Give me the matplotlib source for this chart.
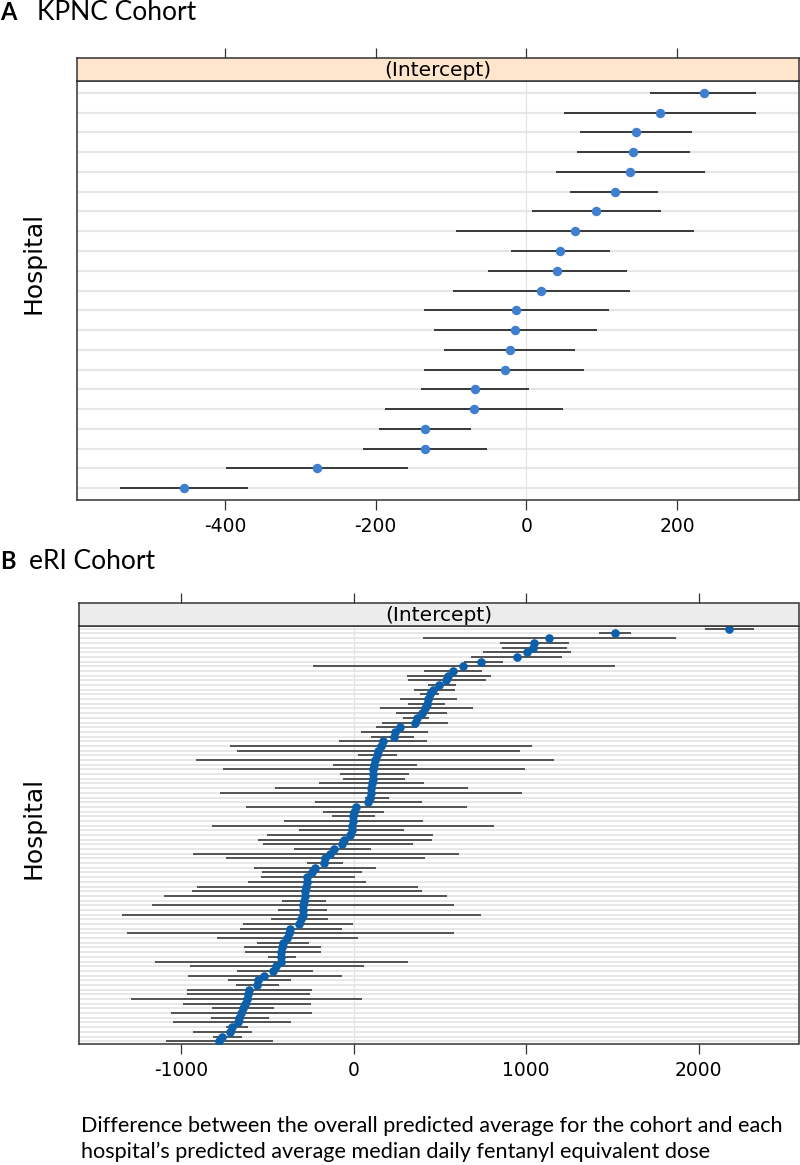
import matplotlib
matplotlib.use("Agg")
import matplotlib.pyplot as plt
import numpy as np

# KPNC cohort, hospitals ordered from the top row down
kpnc_est = [235, 177, 145, 142, 138, 117, 92, 65, 45, 41, 19,
            -14, -15, -22, -29, -68, -69, -134, -134, -278, -454]
kpnc_lo = [164, 50, 71, 67, 39, 58, 8, -94, -20, -51, -98,
           -136, -123, -109, -136, -140, -187, -195, -217, -399, -539]
kpnc_hi = [304, 304, 220, 217, 237, 175, 178, 223, 111, 134, 138,
           109, 94, 65, 77, 4, 49, -73, -52, -157, -369]
kpnc_ticks = [-400, -200, 0, 200]

# eRI cohort, hospitals ordered from the top row down
eri_est = [2178, 1513, 1135, 1046, 1042, 1003, 945, 736, 636, 578,
           549, 536, 497, 462, 444, 433, 423, 414, 394, 369,
           356, 269, 240, 234, 172, 157, 143, 134, 124, 118,
           114, 110, 110, 106, 104, 101, 95, 85, 14, 2,
           -2, -5, -7, -9, -21, -56, -69, -114, -137, -166,
           -172, -223, -243, -268, -272, -276, -280, -282, -286, -290,
           -291, -295, -307, -314, -368, -372, -388, -411, -417, -421,
           -421, -423, -450, -465, -519, -552, -561, -604, -614, -620,
           -629, -643, -654, -662, -668, -706, -716, -764, -778]
eri_lo = [2036, 1424, 404, 848, 858, 748, 682, 640, -237, 408,
          308, 315, 430, 350, 385, 270, 317, 152, 247, 285,
          165, 130, 42, 100, -83, -715, -673, 26, -913, -121,
          -755, -76, -61, -200, -457, -771, 66, -226, -622, -179,
          -127, -403, -822, -314, -503, -556, -527, -343, -932, -741,
          -272, -575, -528, -538, -610, -909, -938, -1096, -413, -1166,
          -437, -1339, -478, -639, -658, -1311, -789, -558, -633, -629,
          -494, -1150, -948, -674, -961, -730, -681, -967, -967, -1289,
          -990, -819, -1058, -826, -1044, -741, -932, -813, -1089]
eri_hi = [2320, 1608, 1868, 1247, 1238, 1262, 1208, 864, 1513, 747,
          795, 768, 592, 585, 495, 600, 527, 690, 544, 440,
          550, 370, 430, 348, 427, 1036, 962, 252, 1160, 365,
          995, 320, 300, 408, 663, 978, 205, 398, 659, 176,
          126, 400, 816, 294, 459, 453, 346, 104, 611, 414,
          -63, 130, 50, 8, 72, 372, 395, 539, -162, 581,
          -152, 737, -150, -1, -69, 582, 27, -256, -189, -189,
          -333, 313, 62, -237, -69, -364, -430, -239, -253, 47,
          -249, -461, -239, -488, -362, -610, -590, -648, -465]
eri_ticks = [-1000, 0, 1000, 2000]

caption = ("Difference between the overall predicted average for the cohort and each\n"
           "hospital\u2019s predicted average median daily fentanyl equivalent dose")

narrow = ["Liberation Sans Narrow", "DejaVu Sans"]
W, H = 800, 1165


def fbox(x0, y0, x1, y1):
    # pixel box (top-left origin) -> figure fraction rect
    return [x0 / W, 1 - y1 / H, (x1 - x0) / W, (y1 - y0) / H]


def panel(fig, box, strip_box, est, lo, hi, ticks, xlim, dot_color, strip_color,
          grid_lw, bar_lw, msize):
    n = len(est)
    y = np.arange(n)[::-1]

    ax = fig.add_axes(fbox(*box))
    ax.set_xlim(*xlim)
    ax.set_ylim(-0.6, n - 0.4)

    # horizontal reference line per hospital + zero line
    for yy in y:
        ax.axhline(yy, color="#e6e6e6", lw=grid_lw, zorder=0)
    ax.axvline(0, color="#e4e4e4", lw=0.9, zorder=0)

    ax.hlines(y, lo, hi, color="#2a2a2a", lw=bar_lw, zorder=2)
    ax.plot(est, y, "o", color=dot_color, ms=msize, mec="none", zorder=3)

    ax.set_yticks([])
    ax.set_xticks(ticks)
    ax.set_xticklabels([str(t) for t in ticks], family=narrow, fontsize=13.5)
    ax.tick_params(axis="x", direction="out", length=7.5, width=0.9,
                   color="#333333", pad=5)
    for s in ax.spines.values():
        s.set_color("#333333")
        s.set_linewidth(1.1)

    # strip on top with "(Intercept)" and the top ticks
    st = fig.add_axes(fbox(*strip_box), sharex=ax)
    st.set_facecolor(strip_color)
    st.set_yticks([])
    st.xaxis.tick_top()
    st.tick_params(axis="x", direction="out", length=7.5, width=0.9,
                   color="#333333", labeltop=False)
    for s in st.spines.values():
        s.set_color("#333333")
        s.set_linewidth(1.1)
    st.text(0.5, 0.45, "(Intercept)", transform=st.transAxes, ha="center",
            va="center", family=narrow, fontsize=14.5)
    return ax


fig = plt.figure(figsize=(8, 11.65), dpi=100)

panel(fig, (76.5, 81, 798.5, 500), (76.5, 57.7, 798.5, 81),
      kpnc_est, kpnc_lo, kpnc_hi, kpnc_ticks, (-597, 361),
      "#3f7fcf", "#ffe5cc", 1.6, 1.3, 6.8)
panel(fig, (78.6, 626, 798.5, 1044), (78.6, 603, 798.5, 626),
      eri_est, eri_lo, eri_hi, eri_ticks, (-1593, 2578),
      "#0b5fab", "#ececec", 1.3, 1.1, 6.2)

# panel titles
fig.text(0 / W, 1 - 20 / H, "A", fontsize=17, fontweight="bold", family="Lato")
fig.text(37 / W, 1 - 20 / H, "KPNC Cohort", fontsize=19, family="Lato")
fig.text(0 / W, 1 - 569 / H, "B", fontsize=17, fontweight="bold", family="Lato")
fig.text(29 / W, 1 - 569 / H, "eRI Cohort", fontsize=19, family="Lato")

# y labels
fig.text(33 / W, 1 - 263 / H, "Hospital", rotation=90, ha="center", va="center",
         fontsize=18)
fig.text(33 / W, 1 - 828 / H, "Hospital", rotation=90, ha="center", va="center",
         fontsize=18)

fig.text(81 / W, 1 - 1139 / H, caption, fontsize=15.6, family="Lato",
         va="center", linespacing=1.35)

fig.savefig("out.png", dpi=100)
